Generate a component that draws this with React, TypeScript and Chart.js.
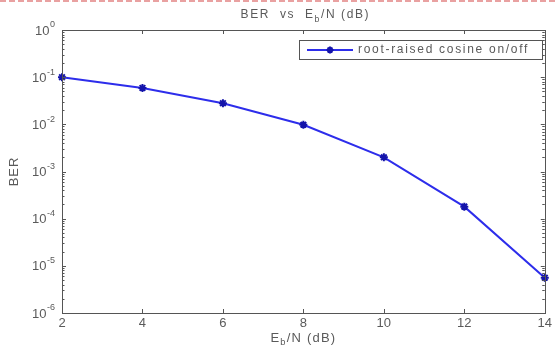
import React, { useEffect, useRef } from "react";
import { Chart, registerables } from "chart.js";

Chart.register(...registerables);

const ebnoDb: number[] = [2, 4, 6, 8, 10, 12, 14];
const berValues: number[] = [0.1, 0.059, 0.028, 0.0098, 0.002, 0.00018, 0.0000056];
const seriesLabel = "root-raised cosine on/off";
const xTickValues: number[] = [2, 4, 6, 8, 10, 12, 14];
const yTickExponents: number[] = [0, -1, -2, -3, -4, -5, -6];

const FONT = '"Liberation Sans", Arial, Helvetica, sans-serif';
const TEXT = "#5a5a5a";
const AXIS = "#555";
const LINE = "rgb(45,45,235)";
const MARK = "rgb(20,20,170)";

function drawEbN(ctx: any, prefix: string, suffix: string, cx: number, cy: number, size: number, spacing: number) {
  ctx.letterSpacing = `${spacing}px`;
  ctx.font = `${size}px ${FONT}`;
  const w1 = ctx.measureText(prefix + "E").width;
  ctx.font = `${size * 0.72}px ${FONT}`;
  const wb = ctx.measureText("b").width;
  ctx.font = `${size}px ${FONT}`;
  const w2 = ctx.measureText(suffix).width;
  let x = cx - (w1 + wb + w2) / 2;
  ctx.textAlign = "left";
  ctx.textBaseline = "middle";
  ctx.fillText(prefix + "E", x, cy);
  x += w1;
  ctx.font = `${size * 0.72}px ${FONT}`;
  ctx.fillText("b", x, cy + size * 0.35);
  x += wb;
  ctx.font = `${size}px ${FONT}`;
  ctx.fillText(suffix, x, cy);
  ctx.letterSpacing = "0px";
}

const decorPlugin = {
  id: "matlabDecor",
  afterDraw(chart: any) {
    const { ctx, chartArea } = chart;
    const xs = chart.scales.x;
    const ys = chart.scales.y;
    const { left, right, top, bottom } = chartArea;
    ctx.save();

    // top dashed red line
    ctx.strokeStyle = "rgba(225,130,130,0.75)";
    ctx.lineWidth = 2;
    ctx.setLineDash([6, 3]);
    ctx.beginPath();
    ctx.moveTo(0, 1);
    ctx.lineTo(chart.width, 1);
    ctx.stroke();
    ctx.setLineDash([]);

    // frame
    ctx.strokeStyle = AXIS;
    ctx.lineWidth = 1;
    ctx.strokeRect(Math.round(left) + 0.5, Math.round(top) + 0.5, Math.round(right - left), Math.round(bottom - top));

    // x ticks
    ctx.beginPath();
    for (const v of xTickValues) {
      const px = Math.round(xs.getPixelForValue(v)) + 0.5;
      ctx.moveTo(px, bottom);
      ctx.lineTo(px, bottom - 4);
      ctx.moveTo(px, top);
      ctx.lineTo(px, top + 4);
    }
    // y ticks major + minor
    for (const e of yTickExponents) {
      for (let m = 1; m <= 9; m++) {
        const val = m * Math.pow(10, e);
        if (val > 1.0000001 || val < 1e-6 * 0.999) continue;
        const py = Math.round(ys.getPixelForValue(val)) + 0.5;
        const len = m === 1 ? 4 : 2.5;
        ctx.moveTo(left, py);
        ctx.lineTo(left + len, py);
        ctx.moveTo(right, py);
        ctx.lineTo(right - len, py);
      }
    }
    ctx.stroke();

    // y tick labels
    ctx.fillStyle = TEXT;
    for (const e of yTickExponents) {
      const py = ys.getPixelForValue(Math.pow(10, e));
      const exp = String(e);
      ctx.font = `9px ${FONT}`;
      const we = ctx.measureText(exp).width;
      ctx.textAlign = "left";
      ctx.textBaseline = "middle";
      const ex = left - 7 - we;
      ctx.fillText(exp, ex, py - 5);
      ctx.font = `13px ${FONT}`;
      ctx.textAlign = "right";
      ctx.fillText("10", ex - 0.5, py + 1);
    }

    // title
    ctx.fillStyle = TEXT;
    drawEbN(ctx, "BER  vs  ", "/N (dB)", (left + right) / 2 + 2, 15, 12, 1.6);
    // x label
    drawEbN(ctx, "", "/N (dB)", (left + right) / 2, 338, 13, 1.2);
    // y label
    ctx.save();
    ctx.translate(14, (top + bottom) / 2);
    ctx.rotate(-Math.PI / 2);
    ctx.font = `13px ${FONT}`;
    ctx.letterSpacing = "1px";
    ctx.textAlign = "center";
    ctx.textBaseline = "middle";
    ctx.fillText("BER", 0, 0);
    ctx.letterSpacing = "0px";
    ctx.restore();

    // legend
    const lx0 = 299, ly0 = 40, lx1 = 542, ly1 = 59;
    ctx.fillStyle = "#fff";
    ctx.fillRect(lx0, ly0, lx1 - lx0, ly1 - ly0);
    ctx.strokeStyle = AXIS;
    ctx.lineWidth = 1;
    ctx.strokeRect(lx0 + 0.5, ly0 + 0.5, lx1 - lx0, ly1 - ly0);
    const ly = (ly0 + ly1) / 2 + 0.5;
    ctx.strokeStyle = LINE;
    ctx.lineWidth = 2;
    ctx.beginPath();
    ctx.moveTo(307, ly);
    ctx.lineTo(353, ly);
    ctx.stroke();
    ctx.strokeStyle = MARK;
    ctx.lineWidth = 2;
    ctx.beginPath();
    const r = 3.5;
    ctx.moveTo(330 - r, ly); ctx.lineTo(330 + r, ly);
    ctx.moveTo(330, ly - r); ctx.lineTo(330, ly + r);
    ctx.moveTo(330 - r * 0.7, ly - r * 0.7); ctx.lineTo(330 + r * 0.7, ly + r * 0.7);
    ctx.moveTo(330 - r * 0.7, ly + r * 0.7); ctx.lineTo(330 + r * 0.7, ly - r * 0.7);
    ctx.stroke();
    ctx.fillStyle = TEXT;
    ctx.font = `12px ${FONT}`;
    ctx.letterSpacing = "1.7px";
    ctx.textAlign = "left";
    ctx.textBaseline = "middle";
    ctx.fillText(chart.data.datasets[0].label, 358, ly);
    ctx.letterSpacing = "0px";

    ctx.restore();
  },
};

export default function App() {
  const ref = useRef<HTMLCanvasElement | null>(null);
  useEffect(() => {
    if (!ref.current) return;
    const chart = new Chart(ref.current, {
      type: "line",
      data: {
        datasets: [
          {
            label: seriesLabel,
            data: ebnoDb.map((x, i) => ({ x, y: berValues[i] })),
            borderColor: LINE,
            borderWidth: 2,
            pointStyle: "star",
            pointRadius: 4,
            pointBorderWidth: 2,
            pointBorderColor: MARK,
            pointBackgroundColor: MARK,
            clip: false as any,
            tension: 0,
          },
        ],
      },
      options: {
        responsive: false,
        animation: false,
        events: [],
        layout: { padding: { top: 30, right: 10, left: 0, bottom: 0 } },
        plugins: { legend: { display: false }, tooltip: { enabled: false }, title: { display: false } },
        scales: {
          x: {
            type: "linear",
            min: 2,
            max: 14,
            afterBuildTicks: (s: any) => {
              s.ticks = xTickValues.map((v) => ({ value: v }));
            },
            afterFit: (s: any) => {
              s.height = 43;
            },
            grid: { display: false, drawTicks: false },
            border: { display: false },
            ticks: { color: TEXT, font: { family: FONT, size: 13 }, padding: 3, maxRotation: 0, autoSkip: false },
          },
          y: {
            type: "logarithmic",
            min: 1e-6,
            max: 1,
            afterFit: (s: any) => {
              s.width = 62;
            },
            grid: { display: false, drawTicks: false },
            border: { display: false },
            ticks: { display: false },
          },
        },
      },
      plugins: [decorPlugin],
    } as any);
    return () => chart.destroy();
  }, []);
  return (
    <div style={{ position: "absolute", left: 0, top: 0, width: 555, height: 356, background: "#fff" }}>
      <canvas ref={ref} width={555} height={356} style={{ display: "block" }} />
    </div>
  );
}
